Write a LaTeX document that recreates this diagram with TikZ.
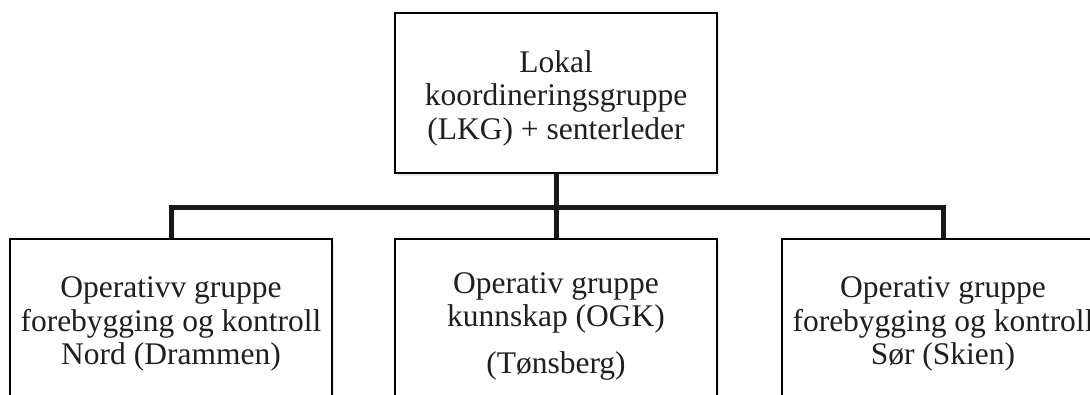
\documentclass[tikz,border=0pt]{standalone}
\usepackage{fontspec}
\setmainfont{Liberation Serif}
\usetikzlibrary{shadows}
\begin{document}
\begin{tikzpicture}[x=1pt,y=-1pt,
  orgbox/.style={draw=black, line width=1.8pt, fill=white, minimum width=322pt, minimum height=160pt, inner sep=0pt,
    drop shadow={opacity=0.18, shadow xshift=1.5pt, shadow yshift=-2.5pt}},
  label/.style={align=center, font=\fontsize{31.5}{33.5}\selectfont, inner sep=0pt, text=black!88},
  conn/.style={line width=5pt, draw=black!90}]
\useasboundingbox (0,0) rectangle (1090,394);
\clip (0,0) rectangle (1090,394);
% boxes
\node[orgbox] (top) at (556,93) {};
\node[orgbox] (left) at (171,319) {};
\node[orgbox] (mid) at (556,319) {};
\node[orgbox] (right) at (943,319) {};
% connectors
\coordinate (bus) at (556,207);
\draw[conn] (top.south) -- (mid.north);
\draw[conn] (left.north) |- (bus) -| (right.north);
% texts
\node[label] (ttop) at (556,98) {Lokal\\koordineringsgruppe\\(LKG) + senterleder};
\node[label] (tleft) at (171,324) {Operativv gruppe\\forebygging og kontroll\\Nord (Drammen)};
\node[label] (tmid) at (556,326) {Operativ gruppe\\kunnskap (OGK)\\[13pt](Tønsberg)};
\node[label] (tright) at (943,324) {Operativ gruppe\\forebygging og kontroll\\Sør (Skien)};
\end{tikzpicture}
\end{document}
